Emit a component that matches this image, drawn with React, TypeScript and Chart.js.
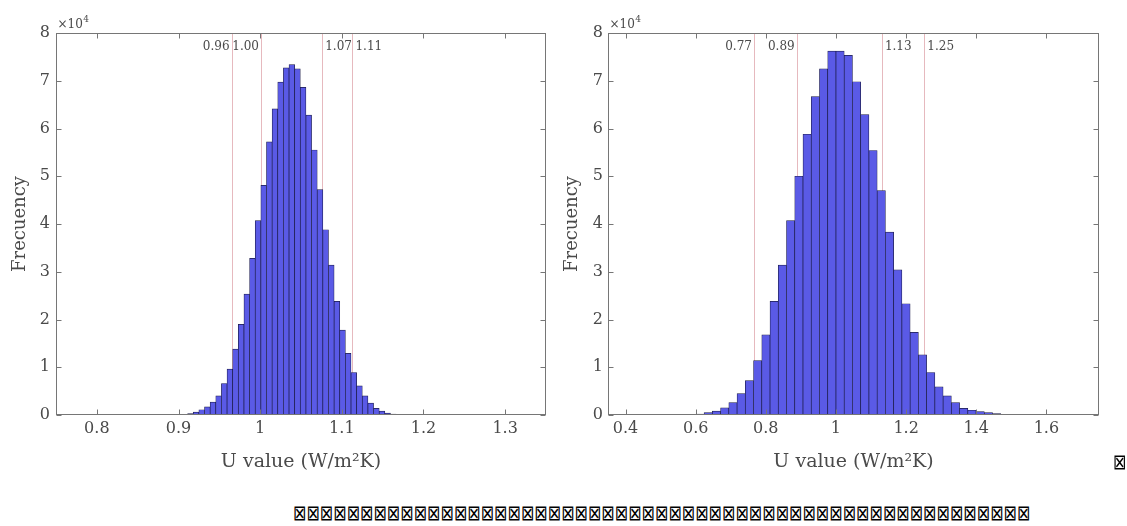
import React, { useEffect, useRef } from 'react';
import { Chart, registerables } from 'chart.js';

Chart.register(...registerables);

// ---------- Left histogram ----------
const leftBinCenters = [
  0.9146, 0.9215, 0.9284, 0.9353, 0.9422, 0.9491, 0.956, 0.9629, 0.9698, 0.9767,
  0.9836, 0.9905, 0.9974, 1.0043, 1.0112, 1.0181, 1.025, 1.0319, 1.0388, 1.0457,
  1.0526, 1.0595, 1.0664, 1.0733, 1.0802, 1.0871, 1.094, 1.1009, 1.1078, 1.1147,
  1.1216, 1.1285, 1.1354, 1.1423, 1.1492, 1.1561, 1.163,
];
const leftFrequency = [
  300, 600, 1100, 1700, 2700, 4000, 6600, 9600, 13800, 19000,
  25300, 32800, 40700, 48100, 57200, 64100, 69700, 72700, 73400, 72500,
  68600, 62800, 55500, 47200, 38800, 31400, 23800, 17800, 12900, 8900,
  6100, 4000, 2500, 1400, 800, 400, 200,
];
const leftXTicks = [0.8, 0.9, 1.0, 1.1, 1.2, 1.3];
const leftXRange = [0.75, 1.35];
const leftLineValues = [0.965, 1.001, 1.076, 1.113];
const leftLineLabels = ['0.96', '1.00', '1.07', '1.11'];

// ---------- Right histogram ----------
const rightBinCenters = [
  0.61225, 0.63575, 0.65925, 0.68275, 0.70625, 0.72975, 0.75325, 0.77675, 0.80025, 0.82375,
  0.84725, 0.87075, 0.89425, 0.91775, 0.94125, 0.96475, 0.98825, 1.01175, 1.03525, 1.05875,
  1.08225, 1.10575, 1.12925, 1.15275, 1.17625, 1.19975, 1.22325, 1.24675, 1.27025, 1.29375,
  1.31725, 1.34075, 1.36425, 1.38775, 1.41125, 1.43475, 1.45825,
];
const rightFrequency = [
  200, 500, 800, 1500, 2600, 4500, 7200, 11400, 16800, 23800,
  31400, 40700, 50000, 58800, 66700, 72500, 76200, 76200, 75300, 69800,
  62900, 55400, 47000, 38300, 30400, 23300, 17300, 12600, 8900, 5900,
  4000, 2600, 1400, 1000, 700, 500, 300,
];
const rightXTicks = [0.4, 0.6, 0.8, 1.0, 1.2, 1.4, 1.6];
const rightXRange = [0.35, 1.75];
const rightLineValues = [0.766, 0.888, 1.131, 1.252];
const rightLineLabels = ['0.77', '0.89', '1.13', '1.25'];

// ---------- Shared ----------
const yTicks = [0, 10000, 20000, 30000, 40000, 50000, 60000, 70000, 80000];
const yMax = 80000;
const xTitle = 'U value (W/m²K)';
const yTitle = 'Frecuency';
const exponentBase = '×10';
const exponentPower = '4';
const captionText = '⊠'.repeat(55);

const SERIF = "'DejaVu Serif', serif";
const TEXT = '#4a4a4a';
const AXIS = '#767676';
const BAR_FILL = '#5a5ae6';
const BAR_EDGE = '#1c1c4a';
const LINE = '#e6b9be';

const fmt = (v: number) => String(Number(v.toFixed(2)));

const matlabAxes = {
  id: 'matlabAxes',
  beforeDatasetsDraw(chart: any, _args: any, opts: any) {
    const { ctx, chartArea, scales } = chart;
    const x = scales.x;
    ctx.save();
    ctx.strokeStyle = LINE;
    ctx.lineWidth = 1;
    (opts.lines as number[]).forEach((v) => {
      const px = Math.round(x.getPixelForValue(v)) + 0.5;
      ctx.beginPath();
      ctx.moveTo(px, chartArea.top);
      ctx.lineTo(px, chartArea.bottom);
      ctx.stroke();
    });
    ctx.restore();
  },
  afterDatasetsDraw(chart: any, _args: any, opts: any) {
    const { ctx, chartArea, scales } = chart;
    const x = scales.x;
    const y = scales.y;
    const L = Math.round(chartArea.left) + 0.5;
    const R = Math.round(chartArea.right) - 0.5;
    const T = Math.round(chartArea.top) + 0.5;
    const B = Math.round(chartArea.bottom) - 0.5;
    ctx.save();
    // line labels
    ctx.font = `12px ${SERIF}`;
    ctx.fillStyle = TEXT;
    ctx.textBaseline = 'middle';
    (opts.lines as number[]).forEach((v, i) => {
      const px = x.getPixelForValue(v);
      if (i < 2) {
        ctx.textAlign = 'right';
        ctx.fillText(opts.labels[i], px - 2, T + 13);
      } else {
        ctx.textAlign = 'left';
        ctx.fillText(opts.labels[i], px + 3, T + 13);
      }
    });
    // box
    ctx.strokeStyle = AXIS;
    ctx.lineWidth = 1;
    ctx.strokeRect(L, T, R - L, B - T);
    // ticks (inward)
    const tl = 5;
    ctx.beginPath();
    x.ticks.forEach((t: any) => {
      const px = Math.round(x.getPixelForValue(t.value)) + 0.5;
      ctx.moveTo(px, B);
      ctx.lineTo(px, B - tl);
      ctx.moveTo(px, T);
      ctx.lineTo(px, T + tl);
    });
    y.ticks.forEach((t: any) => {
      const py = Math.round(y.getPixelForValue(t.value)) + 0.5;
      ctx.moveTo(L, py);
      ctx.lineTo(L + tl, py);
      ctx.moveTo(R, py);
      ctx.lineTo(R - tl, py);
    });
    ctx.stroke();
    // exponent
    ctx.fillStyle = TEXT;
    ctx.textAlign = 'left';
    ctx.textBaseline = 'alphabetic';
    ctx.font = `12px ${SERIF}`;
    ctx.fillText(exponentBase, L + 1, T - 6);
    const w = ctx.measureText(exponentBase).width;
    ctx.font = `9px ${SERIF}`;
    ctx.fillText(exponentPower, L + 1 + w + 0.5, T - 12);
    ctx.restore();
  },
};

type HistProps = {
  left: number;
  width: number;
  yAxisWidth: number;
  padRight: number;
  yTitlePad: number;
  yLabelPad: number;
  centers: number[];
  freq: number[];
  xTicks: number[];
  xRange: number[];
  lines: number[];
  labels: string[];
};

const HEIGHT = 480;
const PLOT_TOP = 33;
const PLOT_BOTTOM = 415;

function Histogram(p: HistProps) {
  const ref = useRef<HTMLCanvasElement>(null);
  useEffect(() => {
    if (!ref.current) return;
    const chart = new Chart(ref.current, {
      type: 'bar',
      data: {
        datasets: [
          {
            data: p.centers.map((c, i) => ({ x: c, y: p.freq[i] })),
            backgroundColor: BAR_FILL,
            borderColor: BAR_EDGE,
            borderWidth: 0.7,
            borderSkipped: false,
            barPercentage: 1,
            categoryPercentage: 1,
            grouped: false,
          } as any,
        ],
      },
      options: {
        responsive: false,
        animation: false,
        devicePixelRatio: 1,
        layout: { padding: { top: PLOT_TOP, right: p.padRight, left: 0, bottom: 0 } },
        plugins: {
          legend: { display: false },
          tooltip: { enabled: false },
          matlabAxes: { lines: p.lines, labels: p.labels },
        } as any,
        scales: {
          x: {
            type: 'linear',
            min: p.xRange[0],
            max: p.xRange[1],
            offset: false,
            grid: { display: false, drawTicks: false, offset: false },
            border: { display: false },
            afterBuildTicks: (s: any) => {
              s.ticks = p.xTicks.map((v) => ({ value: v }));
            },
            ticks: {
              autoSkip: false,
              maxRotation: 0,
              padding: 4,
              color: TEXT,
              font: { family: SERIF, size: 16 },
              callback: (v: any) => fmt(Number(v)),
            },
            title: {
              display: true,
              text: xTitle,
              color: TEXT,
              font: { family: SERIF, size: 19 },
              padding: { top: 0, bottom: 7 },
            },
            afterFit: (s: any) => {
              s.height = HEIGHT - PLOT_BOTTOM;
            },
          },
          y: {
            type: 'linear',
            min: 0,
            max: yMax,
            grid: { display: false, drawTicks: false },
            border: { display: false },
            afterBuildTicks: (s: any) => {
              s.ticks = yTicks.map((v) => ({ value: v }));
            },
            ticks: {
              autoSkip: false,
              padding: p.yLabelPad,
              color: TEXT,
              font: { family: SERIF, size: 16 },
              callback: (v: any) => String(Number(v) / 10000),
            },
            title: {
              display: true,
              text: yTitle,
              color: TEXT,
              font: { family: SERIF, size: 18 },
              padding: { top: p.yTitlePad, bottom: 0 },
            },
            afterFit: (s: any) => {
              s.width = p.yAxisWidth;
            },
          },
        } as any,
      },
      plugins: [matlabAxes as any],
    });
    return () => chart.destroy();
  }, []);
  return (
    <canvas
      ref={ref}
      width={p.width}
      height={HEIGHT}
      style={{ position: 'absolute', left: p.left, top: 0, width: p.width, height: HEIGHT, display: 'block' }}
    />
  );
}

export default function App() {
  return (
    <div
      style={{
        position: 'absolute',
        left: 0,
        top: 0,
        width: 1127,
        height: 526,
        background: '#ffffff',
        overflow: 'hidden',
      }}
    >
      <Histogram
        left={0}
        width={560}
        yAxisWidth={56}
        padRight={14}
        yTitlePad={10}
        yLabelPad={6}
        centers={leftBinCenters}
        freq={leftFrequency}
        xTicks={leftXTicks}
        xRange={leftXRange}
        lines={leftLineValues}
        labels={leftLineLabels}
      />
      <Histogram
        left={560}
        width={567}
        yAxisWidth={48}
        padRight={28}
        yTitlePad={2}
        yLabelPad={5}
        centers={rightBinCenters}
        freq={rightFrequency}
        xTicks={rightXTicks}
        xRange={rightXRange}
        lines={rightLineValues}
        labels={rightLineLabels}
      />
      <div
        style={{
          position: 'absolute',
          left: 1113,
          top: 452,
          fontFamily: "'DejaVu Sans', sans-serif",
          fontSize: 16,
          lineHeight: '16px',
          color: '#000',
          transform: 'scaleY(1.3)',
          transformOrigin: 'top left',
          whiteSpace: 'nowrap',
        }}
      >
        ⊠
      </div>
      <div
        style={{
          position: 'absolute',
          left: 293,
          top: 503,
          fontFamily: "'DejaVu Sans', sans-serif",
          fontSize: 16,
          lineHeight: '16px',
          color: '#000',
          transform: 'scaleY(1.3)',
          transformOrigin: 'top left',
          whiteSpace: 'nowrap',
        }}
      >
        {captionText}
      </div>
    </div>
  );
}
